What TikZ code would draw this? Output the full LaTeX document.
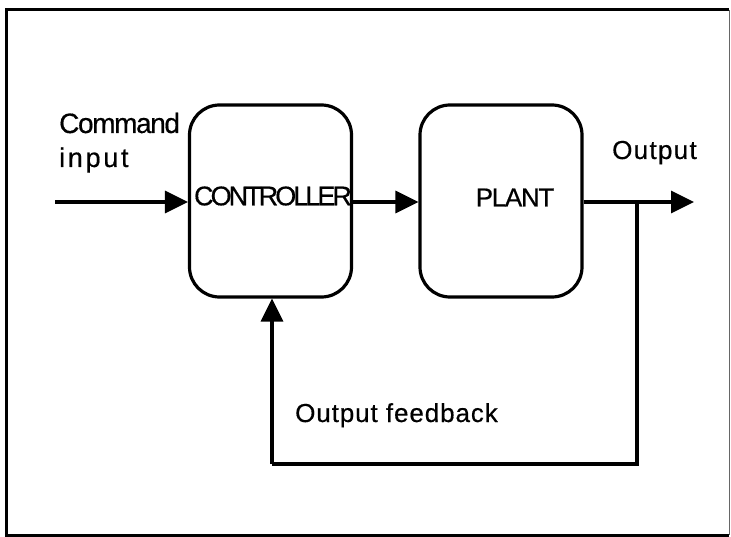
\documentclass[tikz,border=0pt]{standalone}
\usepackage{fontspec}
\setmainfont{Liberation Sans}[FakeBold=0.5]
\usetikzlibrary{arrows.meta}
\tikzset{
  blk/.style={draw, line width=3.2pt, rounded corners=30pt, inner sep=0pt,
    minimum width=162pt, minimum height=192pt},
  lbl/.style={inner sep=0pt, anchor=base west, font=\fontsize{26}{30}\selectfont},
  conn/.style={line width=3.2pt, -{Triangle[length=23pt,width=22pt]}},
  wire/.style={line width=3.2pt}
}
\begin{document}
\begin{tikzpicture}[x=1pt,y=-1pt]
\useasboundingbox (0,0) rectangle (731,537);
% frame
\draw[line width=3pt] (729,10) -- (6,10) -- (6,535) -- (729,535);
\draw[line width=0.8pt, black!60] (729,10) -- (729,535);
% blocks
\node[blk] (ctrl) at (270.5,201) {};
\node[blk] (plant) at (501,201) {};
% labels
\node[inner sep=0pt, font=\fontsize{27}{30}\selectfont\addfontfeature{LetterSpace=-11}] (ctrltext) at (273,196) {CONTROLLER};
\node[inner sep=0pt, font=\fontsize{26}{30}\selectfont\addfontfeature{LetterSpace=-5}] (planttext) at (515,197.5) {PLANT};
\node[lbl, font=\fontsize{28}{30}\selectfont\addfontfeature{LetterSpace=-5}] (cmd) at (59,133) {Command};
\node[lbl, font=\fontsize{27}{30}\selectfont\addfontfeature{LetterSpace=10}] (inp) at (59,167) {input};
\node[lbl, font=\fontsize{26}{30}\selectfont\addfontfeature{LetterSpace=5}] (out) at (612,159) {Output};
\node[lbl, font=\fontsize{26}{30}\selectfont\addfontfeature{LetterSpace=3.5}] (fbtext) at (295,422) {Output feedback};
% coordinates
\coordinate (instart) at (55,202);
\coordinate (outend) at (694,202);
\coordinate (junc) at (637,202);
\coordinate (fbl) at (272,464);
% connectors
\draw[conn] (instart) -- (ctrl.west |- instart);
\draw[conn] (ctrl.east |- instart) -- (plant.west |- instart);
\draw[conn] (plant.east |- instart) -- (outend);
\draw[wire] (junc) |- (fbl);
\draw[conn] (fbl) -- (fbl |- ctrl.south);
\end{tikzpicture}
\end{document}
